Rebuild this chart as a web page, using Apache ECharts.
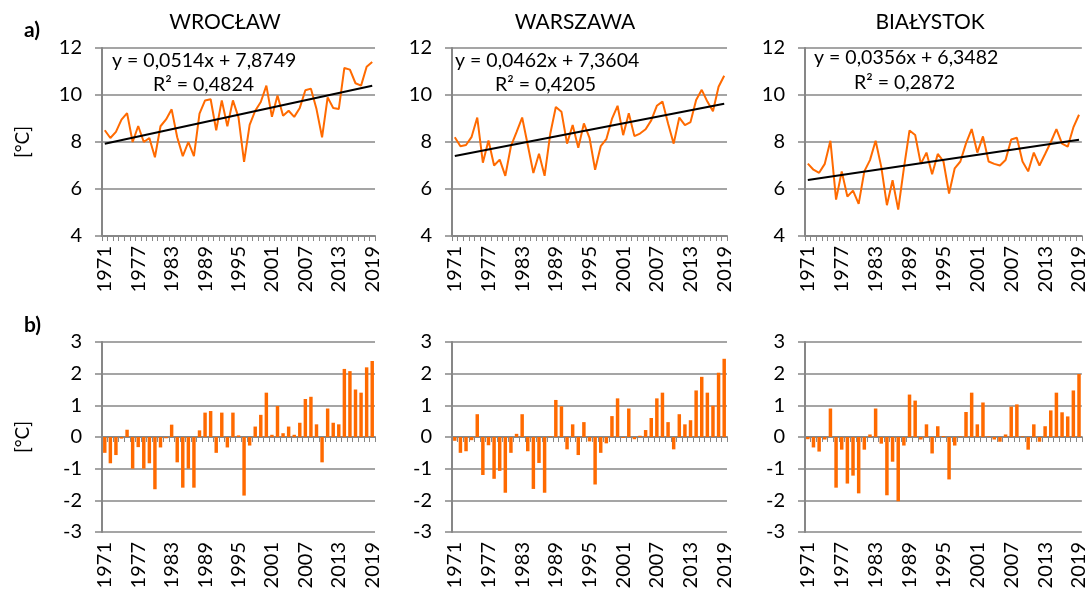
<html>
<head>
	<meta charset="utf-8">
</head>
<body style="margin:0;background:#fff">
	<div id="main" style="width:1089px;height:596px;"></div>
	<script src="https://cdn.jsdelivr.net/npm/echarts/dist/echarts.min.js"></script>
	<script>
		var myChart = echarts.init(document.getElementById('main'), null, { renderer: 'canvas' });

		// lata 1971-2019
		var years = [];
		for (var y = 1971; y <= 2019; y++) {
			years.push(String(y));
		}
		var stations = ['WROCŁAW', 'WARSZAWA', 'BIAŁYSTOK'];

		// średnia roczna temperatura powietrza [°C]
		var tempWro = [8.50, 8.17, 8.43, 8.95, 9.23, 8.00, 8.68, 8.00, 8.17, 7.35,
			8.67, 8.96, 9.39, 8.20, 7.40, 8.00, 7.40, 9.21, 9.77, 9.82,
			8.50, 9.77, 8.67, 9.77, 9.05, 7.15, 8.73, 9.33, 9.70, 10.40,
			9.07, 9.98, 9.12, 9.33, 9.07, 9.45, 10.20, 10.27, 9.40, 8.20,
			9.90, 9.45, 9.40, 11.15, 11.08, 10.50, 10.40, 11.20, 11.40];
		var tempWaw = [8.20, 7.82, 7.87, 8.22, 9.04, 7.12, 8.06, 7.00, 7.25, 6.56,
			7.82, 8.42, 9.04, 7.87, 6.68, 7.50, 6.56, 8.34, 9.49, 9.29,
			7.93, 8.72, 7.75, 8.79, 8.18, 6.82, 7.82, 8.12, 8.98, 9.54,
			8.29, 9.22, 8.25, 8.36, 8.54, 8.92, 9.54, 9.72, 8.79, 7.93,
			9.04, 8.72, 8.85, 9.79, 10.22, 9.72, 9.31, 10.35, 10.82];
		var tempBia = [7.08, 6.82, 6.69, 7.07, 8.05, 5.55, 6.75, 5.68, 5.93, 5.37,
			6.75, 7.23, 8.05, 6.94, 5.31, 6.37, 5.12, 6.88, 8.49, 8.30,
			7.07, 7.55, 6.63, 7.49, 7.18, 5.81, 6.88, 7.17, 7.94, 8.55,
			7.55, 8.24, 7.17, 7.07, 7.00, 7.23, 8.11, 8.18, 7.17, 6.75,
			7.55, 7.00, 7.49, 7.99, 8.55, 7.93, 7.80, 8.62, 9.16];

		// odchylenia od średniej [°C]
		var anomWro = [-0.50, -0.83, -0.57, -0.05, 0.23, -1.00, -0.32, -1.00, -0.83, -1.65,
			-0.33, -0.04, 0.39, -0.80, -1.60, -1.00, -1.60, 0.21, 0.77, 0.82,
			-0.50, 0.77, -0.33, 0.77, 0.05, -1.85, -0.27, 0.33, 0.70, 1.40,
			0.07, 0.98, 0.12, 0.33, 0.07, 0.45, 1.20, 1.27, 0.40, -0.80,
			0.90, 0.45, 0.40, 2.15, 2.08, 1.50, 1.40, 2.20, 2.40];
		var anomWaw = [-0.12, -0.50, -0.45, -0.10, 0.72, -1.20, -0.26, -1.32, -1.07, -1.76,
			-0.50, 0.10, 0.72, -0.45, -1.64, -0.82, -1.76, 0.02, 1.17, 0.97,
			-0.39, 0.40, -0.57, 0.47, -0.14, -1.50, -0.50, -0.20, 0.66, 1.22,
			-0.03, 0.90, -0.07, 0.04, 0.22, 0.60, 1.22, 1.40, 0.47, -0.39,
			0.72, 0.40, 0.53, 1.47, 1.90, 1.40, 0.99, 2.03, 2.47];
		var anomBia = [-0.07, -0.33, -0.46, -0.08, 0.90, -1.60, -0.40, -1.47, -1.22, -1.78,
			-0.40, 0.08, 0.90, -0.21, -1.84, -0.78, -2.03, -0.27, 1.34, 1.15,
			-0.08, 0.40, -0.52, 0.34, 0.03, -1.34, -0.27, 0.02, 0.79, 1.40,
			0.40, 1.09, 0.02, -0.08, -0.15, 0.08, 0.96, 1.03, 0.02, -0.40,
			0.40, -0.15, 0.34, 0.84, 1.40, 0.78, 0.65, 1.47, 1.99];

		// linia trendu: wartość w 1971 i 2019
		var trendStart = [7.926, 7.407, 6.384];
		var trendEnd = [10.394, 9.624, 8.093];
		var equations = ['y = 0,0514x + 7,8749', 'y = 0,0462x + 7,3604', 'y = 0,0356x + 6,3482'];
		var r2Text = ['R² = 0,4824', 'R² = 0,4205', 'R² = 0,2872'];

		var temps = [tempWro, tempWaw, tempBia];
		var anoms = [anomWro, anomWaw, anomBia];

		// układ paneli
		var panelLeft = [102, 452, 805];
		var panelWidth = [273, 275, 278];
		var titleX = [225, 575, 930];
		var eqPos = [[112, 61], [455, 61], [814, 58]];
		var r2Pos = [[153, 85], [495, 85], [854, 83]];

		var FONT = 'Lato';
		var GREY = '#878787';
		var ORANGE = '#ff6a00';

		var grids = [], xAxes = [], yAxes = [], series = [], graphics = [];

		function catAxis(gridIndex, extra) {
			var ax = {
				type: 'category',
				gridIndex: gridIndex,
				data: years,
				boundaryGap: true,
				axisLine: { show: true, lineStyle: { color: GREY, width: 2 } },
				axisTick: { show: true, interval: 0, length: 5, lineStyle: { color: GREY, width: 1 } },
				axisLabel: {
					interval: 5, rotate: 90, margin: 10,
					fontFamily: FONT, fontSize: 20, color: '#000'
				},
				splitLine: { show: false }
			};
			for (var k in extra) ax[k] = extra[k];
			return ax;
		}

		function valAxis(gridIndex, min, max, interval, withName) {
			return {
				type: 'value',
				gridIndex: gridIndex,
				min: min, max: max, interval: interval,
				name: withName ? '[°C]' : '',
				nameLocation: 'middle',
				nameGap: 70,
				nameTextStyle: { fontFamily: FONT, fontSize: 19, color: '#000' },
				axisLine: { show: true, lineStyle: { color: GREY, width: 2 } },
				axisTick: { show: true, length: 7, lineStyle: { color: GREY, width: 1.5 } },
				axisLabel: { margin: 20, fontFamily: FONT, fontSize: 20, color: '#000' },
				splitLine: { show: true, lineStyle: { color: GREY, width: 1.6 } }
			};
		}

		for (var i = 0; i < 3; i++) {
			// a) temperatura + trend
			grids.push({ left: panelLeft[i], top: 48, width: panelWidth[i], height: 188 });
		}
		for (var i = 0; i < 3; i++) {
			// b) odchylenia
			grids.push({ left: panelLeft[i], top: 342, width: panelWidth[i], height: 190 });
		}

		for (var i = 0; i < 3; i++) {
			xAxes.push(catAxis(i, {}));
			yAxes.push(valAxis(i, 4, 12, 2, i === 0));
			series.push({
				type: 'line',
				xAxisIndex: i, yAxisIndex: i,
				data: temps[i],
				symbol: 'none',
				lineStyle: { color: ORANGE, width: 2 },
				z: 3
			});
			series.push({
				type: 'line',
				xAxisIndex: i, yAxisIndex: i,
				data: [[years[0], trendStart[i]], [years[years.length - 1], trendEnd[i]]],
				symbol: 'none',
				lineStyle: { color: '#000', width: 2 },
				z: 4
			});
		}
		for (var i = 0; i < 3; i++) {
			var g = 3 + i;
			// oś przy zerze (kreski), bez etykiet
			var zeroIdx = xAxes.length;
			xAxes.push(catAxis(g, {
				position: 'bottom',
				axisLine: { show: true, onZero: true, lineStyle: { color: GREY, width: 2 } },
				axisLabel: { show: false }
			}));
			// etykiety lat na dole
			xAxes.push(catAxis(g, {
				position: 'bottom',
				axisLine: { show: false, onZero: false },
				axisTick: { show: false }
			}));
			yAxes.push(valAxis(g, -3, 3, 1, i === 0));
			series.push({
				type: 'bar',
				xAxisIndex: zeroIdx, yAxisIndex: g,
				data: anoms[i],
				barWidth: '62%',
				itemStyle: { color: ORANGE }
			});
		}

		for (var i = 0; i < 3; i++) {
			graphics.push({
				type: 'text', x: titleX[i], y: 22,
				style: { text: stations[i], fontFamily: FONT, fontSize: 21, fill: '#000', textAlign: 'center', textVerticalAlign: 'middle' }
			});
			graphics.push({
				type: 'text', x: eqPos[i][0], y: eqPos[i][1], z: 10,
				style: { text: equations[i], fontFamily: FONT, fontSize: 19.5, fill: '#000', textAlign: 'left', textVerticalAlign: 'middle' }
			});
			graphics.push({
				type: 'text', x: r2Pos[i][0], y: r2Pos[i][1], z: 10,
				style: { text: r2Text[i], fontFamily: FONT, fontSize: 19.5, fill: '#000', textAlign: 'left', textVerticalAlign: 'middle' }
			});
		}
		graphics.push({
			type: 'text', x: 24, y: 30,
			style: { text: 'a)', fontFamily: FONT, fontSize: 21, fontWeight: 'bold', fill: '#000', textAlign: 'left', textVerticalAlign: 'middle' }
		});
		graphics.push({
			type: 'text', x: 24, y: 325,
			style: { text: 'b)', fontFamily: FONT, fontSize: 21, fontWeight: 'bold', fill: '#000', textAlign: 'left', textVerticalAlign: 'middle' }
		});

		var option = {
			backgroundColor: '#fff',
			animation: false,
			grid: grids,
			xAxis: xAxes,
			yAxis: yAxes,
			series: series,
			graphic: graphics
		};
		myChart.setOption(option);
	</script>
</body>
</html>
